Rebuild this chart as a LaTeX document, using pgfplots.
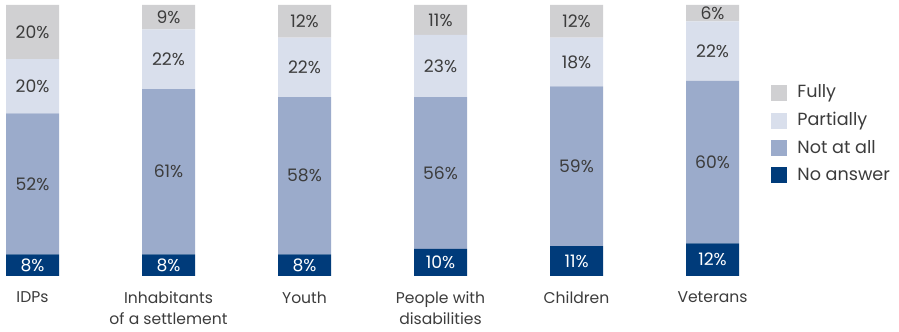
\documentclass[border=0pt]{standalone}
\usepackage{pgfplots}
\pgfplotsset{compat=1.18}
\usepackage{pgfplotstable}
\usepackage{fontspec}
\setmainfont{Poppins}
\definecolor{cfully}{HTML}{D0D0D2}
\definecolor{cpart}{HTML}{D9DFEC}
\definecolor{cnot}{HTML}{9BABCB}
\definecolor{cno}{HTML}{003B7A}
\definecolor{ctext}{HTML}{3C3C3C}
\pgfplotstableread{
x v
0 8
1 8
2 8
3 10
4 11
5 12
}\noans
\pgfplotstableread{
x v
0 52
1 61
2 58
3 56
4 59
5 60
}\notatall
\pgfplotstableread{
x v
0 20
1 22
2 22
3 23
4 18
5 22
}\partially
\pgfplotstableread{
x v
0 20
1 9
2 12
3 11
4 12
5 6
}\fully
\begin{document}
\begin{tikzpicture}
\begin{axis}[
  scale only axis,
  width=449.5pt, height=135.5pt,
  xmin=-0.239, xmax=6.371, ymin=0, ymax=100,
  ybar stacked, bar width=26.5pt,
  axis line style={draw=none},
  ytick=\empty,
  xtick={0,1,2,3,4,5},
  xticklabels={IDPs,{Inhabitants\\of a settlement},Youth,{People with\\disabilities},Children,Veterans},
  xticklabel style={align=center, font=\fontsize{7.8}{10.5}\selectfont, text=ctext, yshift=-4.5pt},
  major tick length=0pt,
  point meta=explicit,
  /pgf/number format/assume math mode=true,
  nodes near coords={\pgfmathprintnumber{\pgfplotspointmeta}\%},
  every node near coord/.append style={anchor=center, font=\fontsize{8.6}{9}\selectfont, text=ctext},
  reverse legend,
  legend style={at={(rel axis cs:0.8576,0.7215)}, anchor=north west, draw=none, fill=none, inner sep=0pt, row sep=1.75pt, font=\fontsize{8.8}{9}\selectfont, text=ctext, /tikz/every odd column/.append style={column sep=3pt}},
  legend cell align=left,
  legend image code/.code={\fill[#1] (0pt,-4pt) rectangle (8pt,4pt);},
]
\addplot[fill=cno, draw=none, every node near coord/.append style={text=white}] table[x=x,y=v,meta=v]{\noans};
\addplot[fill=cnot, draw=none] table[x=x,y=v,meta=v]{\notatall};
\addplot[fill=cpart, draw=none] table[x=x,y=v,meta=v]{\partially};
\addplot[fill=cfully, draw=none] table[x=x,y=v,meta=v]{\fully};
\legend{No answer,Not at all,Partially,Fully}
\end{axis}
\path (current axis.south west) ++(0,-26pt) rectangle ([yshift=2.5pt]current axis.north east);
\end{tikzpicture}
\end{document}
